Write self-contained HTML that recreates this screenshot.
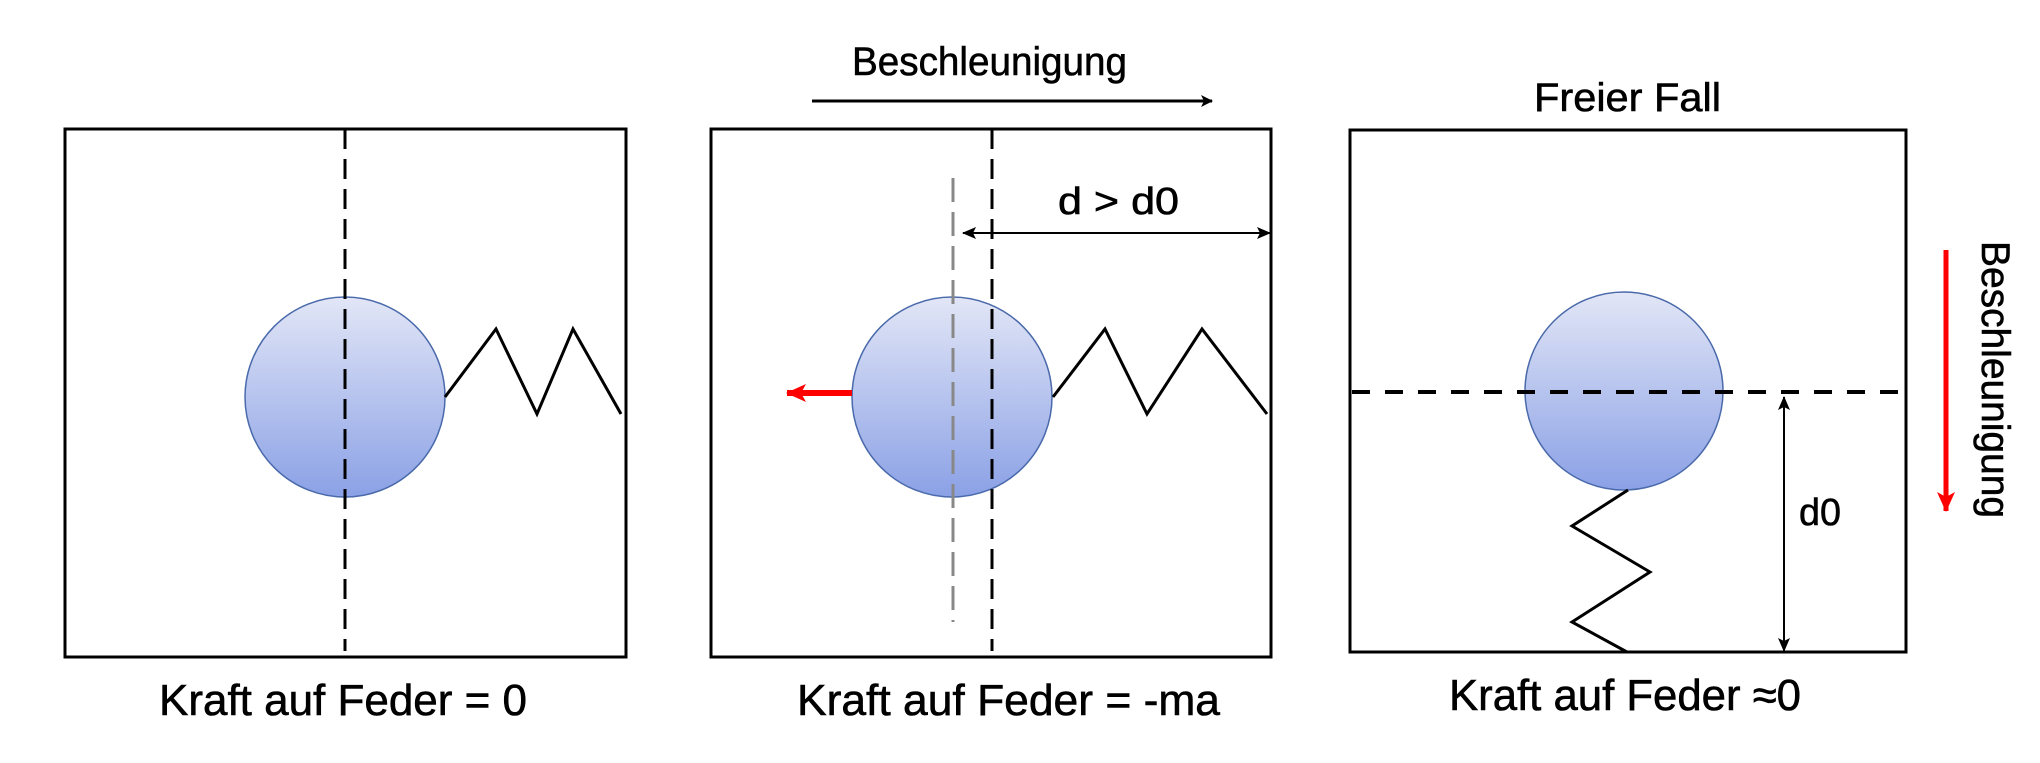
<!DOCTYPE html>
<html><head><meta charset="utf-8"><style>html,body{margin:0;padding:0;background:#fff}svg{display:block}text{font-family:"Liberation Sans",sans-serif;fill:#000;stroke:#000;stroke-width:0.6}</style></head>
<body>
<svg width="2040" height="763" viewBox="0 0 2040 763" xmlns="http://www.w3.org/2000/svg">
<defs>
<linearGradient id="g" x1="0" y1="0" x2="0" y2="1"><stop offset="0" stop-color="#e2e6f6"/><stop offset="1" stop-color="#8ba1e6"/></linearGradient>
<marker id="ah" markerWidth="12" markerHeight="12" refX="11" refY="6" orient="auto" markerUnits="userSpaceOnUse"><path d="M0,0 L12,6 L0,12 L3,6 z" fill="#000"/></marker>
<marker id="ahs" markerWidth="14" markerHeight="12" refX="13" refY="6" orient="auto-start-reverse" markerUnits="userSpaceOnUse"><path d="M0,0 L14,6 L0,12 L3,6 z" fill="#000"/></marker>
<marker id="rh" markerWidth="20" markerHeight="18" refX="19" refY="9" orient="auto" markerUnits="userSpaceOnUse"><path d="M0,0 L20,9 L0,18 L5,9 z" fill="#f00"/></marker>
</defs>
<g fill="none" stroke="#000" stroke-width="3">
<rect x="65" y="129" width="561" height="528"/>
<rect x="711" y="129" width="560" height="528"/>
<rect x="1350" y="130" width="556" height="522"/>
</g>
<!-- panel 1 -->
<circle cx="345" cy="397" r="100" fill="url(#g)" stroke="#4a6aab" stroke-width="1.5"/>
<line x1="345" y1="129" x2="345" y2="651" stroke="#000" stroke-width="3" stroke-dasharray="20,10"/>
<polyline points="445,397 496,329 537,414 573,329 621,414" fill="none" stroke="#000" stroke-width="3"/>
<text x="159" y="715" font-size="44" textLength="368" lengthAdjust="spacingAndGlyphs">Kraft auf Feder = 0</text>
<!-- panel 2 -->
<circle cx="952" cy="397" r="100" fill="url(#g)" stroke="#4a6aab" stroke-width="1.5"/>
<line x1="953" y1="178" x2="953" y2="622" stroke="#888" stroke-width="3" stroke-dasharray="24,10"/>
<line x1="992" y1="129" x2="992" y2="651" stroke="#000" stroke-width="3" stroke-dasharray="20,10"/>
<line x1="852" y1="393" x2="787" y2="393" stroke="#f00" stroke-width="6" marker-end="url(#rh)"/>
<line x1="963" y1="233" x2="1270" y2="233" stroke="#000" stroke-width="2" marker-start="url(#ahs)" marker-end="url(#ahs)"/>
<text x="1058" y="214" font-size="38" textLength="121" lengthAdjust="spacingAndGlyphs">d &gt; d0</text>
<polyline points="1053,397 1105,329 1147,414 1202,329 1267,414" fill="none" stroke="#000" stroke-width="3"/>
<text x="852" y="75" font-size="40" textLength="275" lengthAdjust="spacingAndGlyphs">Beschleunigung</text>
<line x1="812" y1="101" x2="1212" y2="101" stroke="#000" stroke-width="3" marker-end="url(#ah)"/>
<text x="797" y="715" font-size="44" textLength="423" lengthAdjust="spacingAndGlyphs">Kraft auf Feder = -ma</text>
<!-- panel 3 -->
<text x="1534" y="111" font-size="40" textLength="187" lengthAdjust="spacingAndGlyphs">Freier Fall</text>
<circle cx="1624" cy="391" r="99" fill="url(#g)" stroke="#4a6aab" stroke-width="1.5"/>
<line x1="1352" y1="392" x2="1906" y2="392" stroke="#000" stroke-width="4" stroke-dasharray="18,15"/>
<polyline points="1628,490 1572,526 1650,572 1572,622 1627,652" fill="none" stroke="#000" stroke-width="3"/>
<line x1="1784" y1="397" x2="1784" y2="651" stroke="#000" stroke-width="2" marker-start="url(#ahs)" marker-end="url(#ahs)"/>
<text x="1799" y="525" font-size="38" textLength="42" lengthAdjust="spacingAndGlyphs">d0</text>
<line x1="1946" y1="250" x2="1946" y2="511" stroke="#f00" stroke-width="5" marker-end="url(#rh)"/>
<text transform="translate(1982,241) rotate(90)" x="0" y="0" font-size="40" textLength="277" lengthAdjust="spacingAndGlyphs">Beschleunigung</text>
<text x="1449" y="710" font-size="44" textLength="352" lengthAdjust="spacingAndGlyphs">Kraft auf Feder ≈0</text>
</svg>
</body></html>
